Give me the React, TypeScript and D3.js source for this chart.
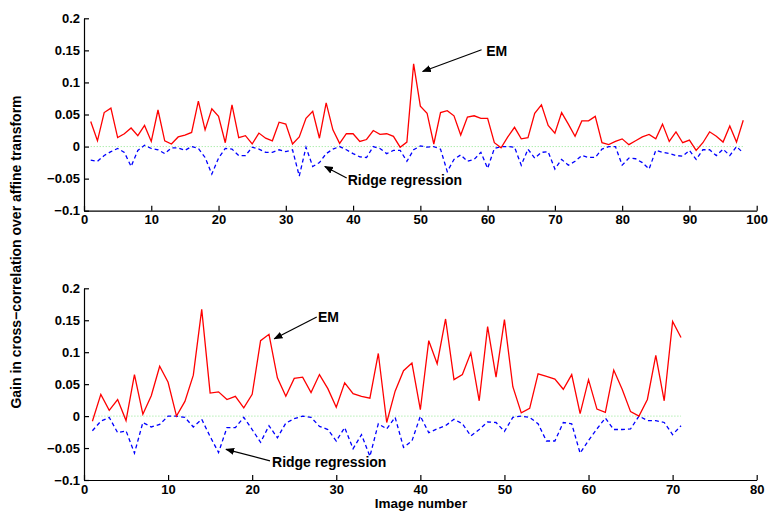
import React, { useEffect, useRef } from 'react';
import * as d3 from 'd3';

// top panel: 98 images
const emTop = [
  0.039, 0.009, 0.053, 0.060, 0.014, 0.020, 0.029, 0.017, 0.033, 0.008,
  0.057, 0.009, 0.004, 0.015, 0.018, 0.022, 0.071, 0.026, 0.059, 0.047,
  0.006, 0.065, 0.014, 0.017, 0.004, 0.021, 0.013, 0.009, 0.038, 0.035,
  0.004, 0.015, 0.044, 0.055, 0.013, 0.068, 0.026, 0.005, 0.020, 0.020,
  0.008, 0.011, 0.025, 0.019, 0.020, 0.016, -0.001, 0.007, 0.129, 0.063,
  0.052, 0.004, 0.053, 0.056, 0.048, 0.018, 0.046, 0.048, 0.044, 0.044,
  0.006, -0.002, 0.015, 0.030, 0.012, 0.014, 0.052, 0.065, 0.033, 0.021,
  0.053, 0.035, 0.016, 0.040, 0.040, 0.047, 0.006, 0.003, 0.008, 0.012,
  0.003, 0.009, 0.015, 0.019, 0.012, 0.035, 0.008, 0.023, 0.006, 0.010,
  -0.006, 0.006, 0.023, 0.016, 0.007, 0.032, 0.007, 0.041,
];
const ridgeTop = [
  -0.021, -0.023, -0.014, -0.008, -0.003, -0.009, -0.031, -0.006, 0.002, -0.003,
  -0.005, -0.011, -0.002, -0.002, -0.006, 0.0, -0.003, -0.017, -0.043, -0.018,
  -0.003, -0.004, -0.014, -0.014, -0.001, -0.004, -0.009, -0.009, -0.005, -0.008,
  -0.005, -0.046, -0.001, -0.031, -0.025, -0.011, -0.004, 0.0, -0.005, -0.011,
  -0.016, -0.017, 0.0, -0.003, -0.011, -0.006, -0.006, -0.023, -0.005, 0.001,
  -0.001, 0.0, -0.004, -0.039, -0.020, -0.013, -0.023, -0.020, -0.009, -0.034,
  -0.003, 0.0, 0.0, -0.001, -0.029, -0.004, -0.018, -0.009, -0.008, -0.035,
  -0.020, -0.029, -0.023, -0.014, -0.017, -0.017, -0.004, 0.0, 0.0, -0.029,
  -0.018, -0.019, -0.025, -0.035, -0.006, -0.009, -0.011, -0.014, -0.015, -0.006,
  -0.020, -0.005, -0.005, -0.014, -0.004, -0.014, 0.0, -0.010,
];

// bottom panel: 71 images
const emBottom = [
  -0.008, 0.034, 0.009, 0.026, -0.007, 0.065, 0.003, 0.032, 0.078, 0.053,
  0.000, 0.023, 0.064, 0.167, 0.036, 0.038, 0.026, 0.031, 0.013, 0.034,
  0.118, 0.128, 0.060, 0.031, 0.059, 0.061, 0.037, 0.065, 0.043, 0.014,
  0.052, 0.035, 0.031, 0.028, 0.098, -0.010, 0.039, 0.071, 0.083, 0.010,
  0.118, 0.082, 0.152, 0.057, 0.065, 0.099, 0.024, 0.140, 0.061, 0.151,
  0.046, 0.005, 0.012, 0.066, 0.062, 0.058, 0.042, 0.065, 0.004, 0.057,
  0.011, 0.006, 0.072, 0.042, 0.007, 0.000, 0.026, 0.095, 0.024, 0.148,
  0.123,
];
const ridgeBottom = [
  -0.023, -0.008, -0.002, -0.026, -0.023, -0.058, -0.010, -0.017, -0.013, 0.0,
  0.0, -0.002, -0.017, -0.005, -0.032, -0.057, -0.018, -0.018, -0.002, -0.021,
  -0.041, -0.015, -0.034, -0.011, -0.004, 0.0, -0.002, -0.016, -0.021, -0.039,
  -0.018, -0.051, -0.029, -0.063, -0.012, -0.020, -0.002, -0.049, -0.039, 0.0,
  -0.026, -0.020, -0.015, -0.005, -0.012, -0.031, -0.021, -0.009, -0.010, -0.024,
  -0.002, 0.0, -0.002, -0.012, -0.039, -0.039, -0.010, -0.012, -0.058, -0.038,
  -0.020, -0.003, -0.021, -0.021, -0.020, 0.0, -0.007, -0.007, -0.010, -0.029,
  -0.015,
];

const yTicks = [-0.1, -0.05, 0, 0.05, 0.1, 0.15, 0.2];
const yTickLabels = ['\u22120.1', '\u22120.05', '0', '0.05', '0.1', '0.15', '0.2'];
const xTicksTop = [0, 10, 20, 30, 40, 50, 60, 70, 80, 90, 100];
const xTicksBottom = [0, 10, 20, 30, 40, 50, 60, 70, 80];

// annotations in data units: text position and arrow tail -> tip
const notesTop = [
  { text: 'EM', tx: 59.8, ty: 0.141, x1: 59.1, y1: 0.151, x2: 50.35, y2: 0.117 },
  { text: 'Ridge regression', tx: 39.2, ty: -0.06, x1: 39.05, y1: -0.049, x2: 35.8, y2: -0.031 },
];
const notesBottom = [
  { text: 'EM', tx: 27.83, ty: 0.147, x1: 27.68, y1: 0.155, x2: 22.63, y2: 0.121 },
  { text: 'Ridge regression', tx: 22.36, ty: -0.08, x1: 22.12, y1: -0.07, x2: 16.89, y2: -0.052 },
];

const font = '"Liberation Sans", Arial, sans-serif';

const App = () => {
  const svgRef = useRef<SVGSVGElement>(null);

  useEffect(() => {
    const svg = d3.select(svgRef.current);
    svg.selectAll('*').remove();

    svg
      .append('defs')
      .append('marker')
      .attr('id', 'arrow')
      .attr('viewBox', '0 0 10 10')
      .attr('refX', 9)
      .attr('refY', 5)
      .attr('markerWidth', 9)
      .attr('markerHeight', 9)
      .attr('markerUnits', 'userSpaceOnUse')
      .attr('orient', 'auto')
      .append('path')
      .attr('d', 'M0,1 L10,5 L0,9 Z')
      .attr('fill', 'black');

    const panels = [
      { em: emTop, ridge: ridgeTop, xMax: 100, xTicks: xTicksTop, top: 18.3, bottom: 210.7, notes: notesTop },
      { em: emBottom, ridge: ridgeBottom, xMax: 80, xTicks: xTicksBottom, top: 288.3, bottom: 480, notes: notesBottom },
    ];

    panels.forEach((p) => {
      const x = d3.scaleLinear().domain([0, p.xMax]).range([84, 756.7]);
      const y = d3.scaleLinear().domain([-0.1, 0.2]).range([p.bottom, p.top]);
      const g = svg.append('g');

      const line = d3
        .line<number>()
        .x((d, i) => x(i + 1))
        .y((d) => y(d));

      // zero reference line
      g.append('line')
        .attr('x1', x(1))
        .attr('x2', x(p.em.length))
        .attr('y1', y(0))
        .attr('y2', y(0))
        .attr('stroke', '#8fe68f')
        .attr('stroke-width', 1)
        .attr('stroke-dasharray', '1,2');

      g.append('path')
        .datum(p.ridge)
        .attr('d', line)
        .attr('fill', 'none')
        .attr('stroke', '#0000ff')
        .attr('stroke-width', 1.3)
        .attr('stroke-dasharray', '4,3');

      g.append('path')
        .datum(p.em)
        .attr('d', line)
        .attr('fill', 'none')
        .attr('stroke', '#ff0000')
        .attr('stroke-width', 1.3);

      const xAxis = g
        .append('g')
        .attr('transform', `translate(0,${p.bottom})`)
        .call(d3.axisBottom(x).tickValues(p.xTicks).tickSizeInner(-5).tickSizeOuter(0).tickPadding(4.5));

      const yAxis = g
        .append('g')
        .attr('transform', 'translate(84,0)')
        .call(
          d3
            .axisLeft(y)
            .tickValues(yTicks)
            .tickFormat((d, i) => yTickLabels[i])
            .tickSizeInner(-5)
            .tickSizeOuter(0)
            .tickPadding(4)
        );

      [xAxis, yAxis].forEach((a) => {
        a.selectAll('path, line').attr('stroke', 'black').attr('stroke-width', 1.2);
        a.selectAll('text')
          .attr('fill', 'black')
          .style('font-family', font)
          .style('font-weight', 'bold')
          .style('font-size', '13px');
      });

      p.notes.forEach((n) => {
        g.append('line')
          .attr('x1', x(n.x1))
          .attr('y1', y(n.y1))
          .attr('x2', x(n.x2))
          .attr('y2', y(n.y2))
          .attr('stroke', 'black')
          .attr('stroke-width', 1.2)
          .attr('marker-end', 'url(#arrow)');
        g.append('text')
          .attr('x', x(n.tx))
          .attr('y', y(n.ty))
          .text(n.text)
          .style('font-family', font)
          .style('font-weight', 'bold')
          .style('font-size', '14px');
      });
    });

    svg
      .append('text')
      .attr('transform', 'translate(21,252) rotate(-90)')
      .attr('text-anchor', 'middle')
      .text('Gain in cross\u2212correlation over affine transform')
      .style('font-family', font)
      .style('font-weight', 'bold')
      .style('font-size', '14px');

    svg
      .append('text')
      .attr('x', 421)
      .attr('y', 508)
      .attr('text-anchor', 'middle')
      .text('Image number')
      .style('font-family', font)
      .style('font-weight', 'bold')
      .style('font-size', '13.5px');
  }, []);

  return (
    <svg
      ref={svgRef}
      width={771}
      height={511}
      style={{ position: 'absolute', left: 0, top: 0, background: 'white' }}
    ></svg>
  );
};

export default App;
